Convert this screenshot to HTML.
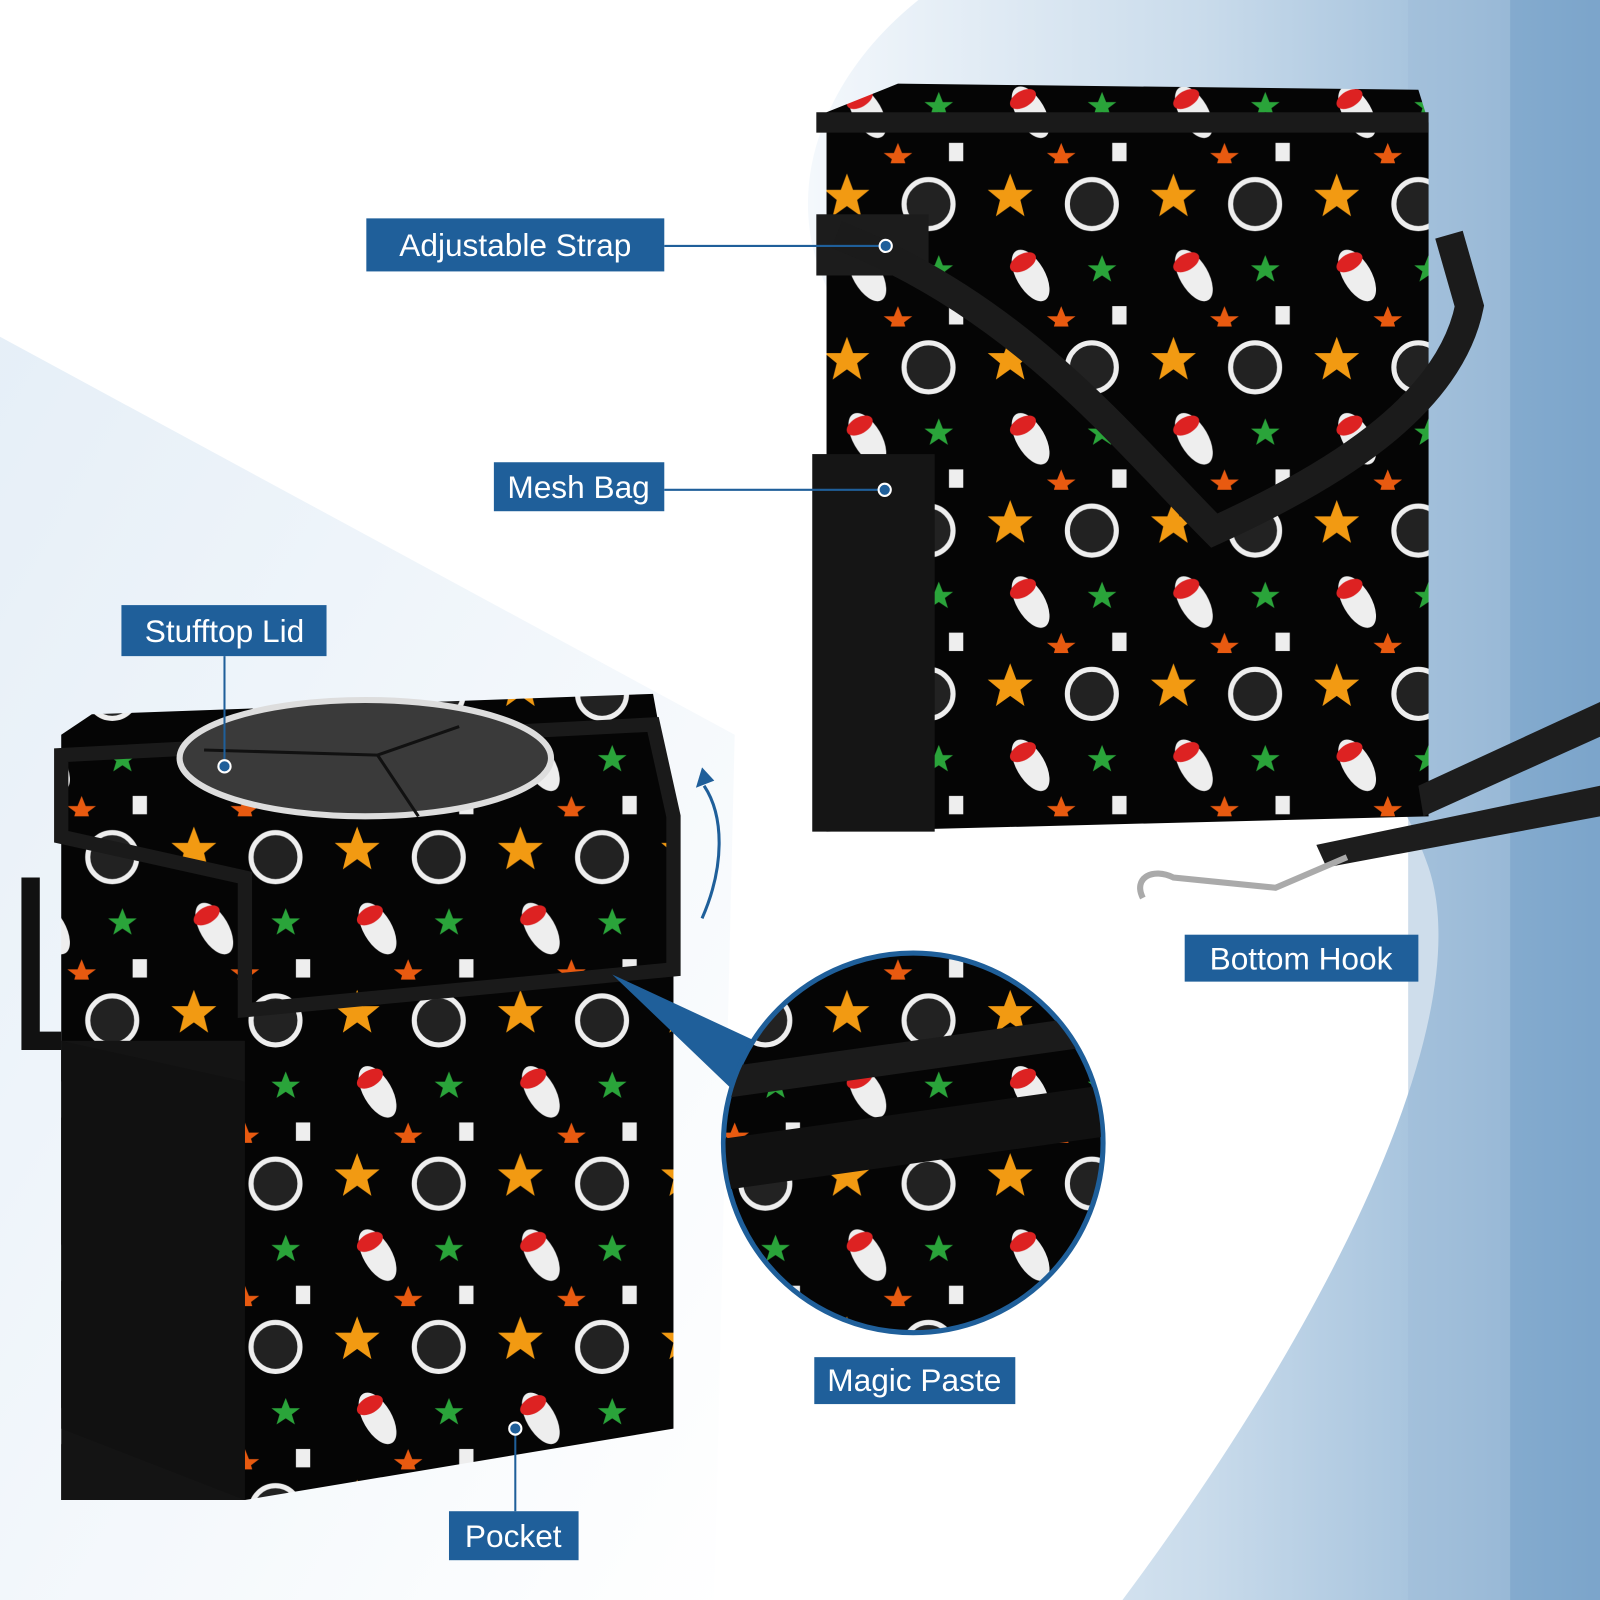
<!DOCTYPE html>
<html><head><meta charset="utf-8"><style>
html,body{margin:0;padding:0;background:#fff;}
svg{display:block;}
text{font-family:"Liberation Sans",sans-serif;fill:#fff;font-size:31px;}
</style></head><body>
<svg width="1600" height="1600" viewBox="0 0 1568 1568" xmlns="http://www.w3.org/2000/svg">
<defs>
<linearGradient id="bg" x1="0" y1="0" x2="1" y2="0">
<stop offset="0" stop-color="#f4f8fc"/><stop offset="0.5" stop-color="#c9dbeb"/><stop offset="0.8" stop-color="#a3c1dc"/><stop offset="1" stop-color="#7fa7cc"/>
</linearGradient>
<linearGradient id="wedge" x1="0" y1="0" x2="1" y2="1">
<stop offset="0" stop-color="#dbe8f4"/><stop offset="1" stop-color="#ffffff"/>
</linearGradient>
<clipPath id="circ"><circle cx="895" cy="1120" r="184"/></clipPath>
<pattern id="pat" width="160" height="160" patternUnits="userSpaceOnUse">
<rect width="160" height="160" fill="#050505"/>
<polygon points="30,10 36,26 52,26 40,36 44,52 30,42 16,52 20,36 8,26 24,26" fill="#f29a12"/>
<polygon points="120,90 124,100 134,100 126,106 129,116 120,110 111,116 114,106 106,100 116,100" fill="#2aa43a"/>
<circle cx="110" cy="40" r="24" fill="#222" stroke="#eee" stroke-width="5"/>
<ellipse cx="50" cy="110" rx="14" ry="28" fill="#eee" transform="rotate(-30 50 110)"/>
<ellipse cx="50" cy="95" rx="14" ry="8" fill="#d22" transform="rotate(-30 50 110)"/>
<rect x="130" y="140" width="14" height="18" fill="#eee"/>
<polygon points="80,140 84,150 94,150 86,156 89,166 80,160 71,166 74,156 66,150 76,150" fill="#e85a10"/>
</pattern>
</defs>
<rect width="1568" height="1568" fill="#fff"/>
<path d="M900,0 L1568,0 L1568,1568 L1100,1568 C1300,1300 1450,1000 1400,850 C1320,620 1050,500 820,300 C760,200 800,80 900,0 Z" fill="url(#bg)"/>
<rect x="1380" y="0" width="100" height="1568" fill="#9ebcd8" opacity="0.5"/>
<rect x="1480" y="0" width="88" height="1568" fill="#7aa3c9" opacity="0.6"/>
<polygon points="0,330 720,720 700,1568 0,1568 0,1300" fill="url(#wedge)" opacity="0.7"/>

<!-- right bag -->
<polygon points="810,110 880,82 1390,88 1400,120 1400,800 810,815" fill="url(#pat)"/>
<rect x="800" y="110" width="600" height="20" fill="#1a1a1a"/>
<rect x="796" y="445" width="120" height="370" fill="#151515"/>
<rect x="800" y="210" width="110" height="60" fill="#1c1c1c"/>
<path d="M820,230 C1000,300 1100,430 1190,520 C1300,470 1420,400 1440,300 L1420,230" fill="none" stroke="#1b1b1b" stroke-width="28"/>
<polygon points="1390,770 1568,688 1568,722 1395,800" fill="#1d1d1d"/>
<polygon points="1290,828 1568,770 1568,800 1300,850" fill="#1d1d1d"/>
<path d="M1120,880 C1110,860 1130,850 1150,860 L1250,870 L1320,840" fill="none" stroke="#aaa" stroke-width="6"/>

<!-- left bag -->
<polygon points="60,720 90,700 640,680 660,790 660,1400 240,1470 60,1470" fill="url(#pat)"/>
<rect x="60" y="1020" width="180" height="450" fill="#141414"/>
<polygon points="60,1020 240,1060 240,1470 60,1400" fill="#111"/>
<path d="M60,740 L640,710 L660,800 L660,950 L240,990 L240,860 L60,820 Z" fill="url(#pat)" stroke="#1a1a1a" stroke-width="14"/>
<ellipse cx="358" cy="743" rx="182" ry="57" fill="#3a3a3a" stroke="#ddd" stroke-width="6"/>
<path d="M200,735 L370,740 L450,712 M370,740 L410,800" stroke="#111" stroke-width="3" fill="none"/>
<path d="M30,860 L30,1020 L60,1020" stroke="#111" stroke-width="18" fill="none"/>
<path d="M688,900 C710,850 710,800 690,770" stroke="#1f5f9a" stroke-width="3" fill="none"/>
<polygon points="682,772 700,765 688,752" fill="#1f5f9a"/>

<!-- magnifier -->
<polygon points="600,955 740,1020 720,1070" fill="#1f5f9a"/>
<circle cx="895" cy="1120" r="186" fill="url(#pat)" stroke="#1f5f9a" stroke-width="5"/>
<g clip-path="url(#circ)">
<rect x="700" y="1090" width="400" height="50" fill="#111" transform="rotate(-8 895 1115)"/>
<rect x="700" y="1020" width="400" height="30" fill="#1b1b1b" transform="rotate(-8 895 1035)"/>
</g>

<!-- labels -->
<g stroke="#1f5f9a" stroke-width="2" fill="none">
<line x1="651" y1="241" x2="868" y2="241"/>
<line x1="651" y1="480" x2="866" y2="480"/>
<line x1="220" y1="643" x2="220" y2="750"/>
<line x1="505" y1="1400" x2="505" y2="1481"/>
</g>
<g fill="#1f5f9a" stroke="#fff" stroke-width="2">
<circle cx="868" cy="241" r="6"/><circle cx="867" cy="480" r="6"/><circle cx="220" cy="751" r="6"/><circle cx="505" cy="1400" r="6"/>
</g>
<rect x="359" y="214" width="292" height="52" fill="#1f5f9a"/><text x="505" y="251" text-anchor="middle">Adjustable Strap</text>
<rect x="484" y="453" width="167" height="48" fill="#1f5f9a"/><text x="567" y="488" text-anchor="middle">Mesh Bag</text>
<rect x="119" y="593" width="201" height="50" fill="#1f5f9a"/><text x="220" y="629" text-anchor="middle">Stufftop Lid</text>
<rect x="1161" y="916" width="229" height="46" fill="#1f5f9a"/><text x="1275" y="950" text-anchor="middle">Bottom Hook</text>
<rect x="798" y="1330" width="197" height="46" fill="#1f5f9a"/><text x="896" y="1363" text-anchor="middle">Magic Paste</text>
<rect x="440" y="1481" width="127" height="48" fill="#1f5f9a"/><text x="503" y="1516" text-anchor="middle">Pocket</text>
</svg>
</body></html>
